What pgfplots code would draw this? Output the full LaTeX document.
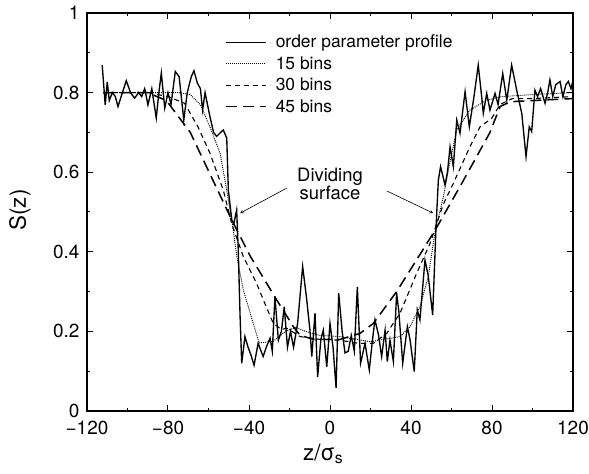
\documentclass[border=0pt]{standalone}
\usepackage{pgfplots}
\pgfplotsset{compat=1.18}
\usepackage{fontspec}
\setmainfont{TeX Gyre Heros}
\begin{document}
\begin{tikzpicture}[>=stealth]
\begin{axis}[
  name=ax,
  scale only axis,
  width=486bp, height=398bp,
  xmin=-120, xmax=120, ymin=0, ymax=1,
  xtick={-120,-80,...,120},
  xticklabels={−120,−80,−40,0,40,80,120},
  ytick={0,0.2,...,1},
  yticklabels={0,0.2,0.4,0.6,0.8,1},
  minor x tick num=1, minor y tick num=1,
  major tick length=6bp, minor tick length=3.5bp,
  every tick/.style={line width=1bp, black},
  axis line style={line width=1.4bp},
  tick label style={font=\fontsize{19}{21}\selectfont},
  xticklabel style={yshift=-7bp},
  yticklabel style={xshift=-4bp},
  xlabel={z/σ\textsubscript{s}},
  ylabel={S(z)},
  label style={font=\fontsize{22.5}{25}\selectfont},
  xlabel style={at={(axis description cs:0.486,-0.108)}, anchor=center},
  ylabel style={at={(axis description cs:-0.138,0.505)}, anchor=center},
  legend style={draw=none, fill=none, at={(axis description cs:0.278,0.955)}, anchor=north west,
    font=\fontsize{17.5}{19}\selectfont, row sep=3.3bp,
    /tikz/every odd column/.append style={column sep=7bp}},
  legend cell align=left,
  legend image code/.code={\draw[#1] (0bp,0bp) -- (40bp,0bp);},
]
% order parameter profile
\addplot[black, line width=1.35bp] coordinates {
(-112.5,0.869) (-111,0.769) (-110,0.827) (-109,0.78) (-107.5,0.80) (-106,0.79)
(-104.7,0.765) (-102.5,0.80) (-100.6,0.83) (-98.5,0.80) (-96.5,0.786) (-94.5,0.80)
(-93,0.79) (-91.5,0.81) (-89.9,0.769) (-88,0.81) (-85.8,0.736) (-84.5,0.80)
(-83.3,0.849) (-81.6,0.761) (-80,0.80) (-78.5,0.77) (-76.4,0.853) (-74.5,0.84)
(-72.2,0.731) (-70.5,0.80) (-68.5,0.84) (-67.2,0.855) (-65.5,0.824) (-64,0.81)
(-62.9,0.756) (-61.7,0.80) (-59.3,0.74) (-57.5,0.70) (-56,0.69) (-54,0.70)
(-52.7,0.706) (-51,0.686) (-50.2,0.555) (-48.5,0.48) (-47.5,0.47) (-46.1,0.505)
(-45.3,0.405) (-44.4,0.237) (-43.6,0.12) (-42,0.187) (-40.5,0.161) (-39,0.14)
(-37.5,0.115) (-35.5,0.17) (-34,0.15) (-33,0.137) (-31.5,0.16) (-29.6,0.183)
(-28.5,0.15) (-27.2,0.287) (-25.5,0.178) (-24,0.2) (-22.6,0.262) (-21,0.16)
(-19.5,0.2) (-18,0.16) (-16,0.22) (-13.5,0.363) (-11.5,0.28) (-9.9,0.203)
(-9,0.137) (-7.4,0.246) (-6.1,0.086) (-4.5,0.18) (-3.3,0.203) (-1.6,0.111)
(0,0.22) (1.5,0.16) (3,0.058) (4.3,0.296) (6,0.2) (7.4,0.146) (9,0.15)
(10.5,0.19) (12,0.15) (13.5,0.312) (15.1,0.12) (17.3,0.17) (19.4,0.103)
(21,0.18) (22.2,0.229) (24,0.19) (25.5,0.137) (27.2,0.203) (28.3,0.124)
(29.6,0.178) (31.3,0.124) (32.9,0.296) (34,0.25) (35.9,0.12) (38.2,0.212)
(39.5,0.18) (41.6,0.099) (43.1,0.254) (44.4,0.229) (46.9,0.379) (48.5,0.34)
(50.7,0.241) (52.3,0.455) (53.5,0.58) (54.6,0.614) (56.8,0.568) (58,0.60)
(59.3,0.664) (60.9,0.614) (62.6,0.731) (64.2,0.698) (66.7,0.802) (68.8,0.714)
(71.1,0.79) (73.2,0.869) (74.9,0.79) (75.7,0.748) (77.4,0.798) (79,0.756)
(81.5,0.798) (83,0.77) (85.3,0.848) (87.3,0.781) (89.7,0.869) (92.2,0.806)
(94.7,0.748) (96.8,0.639) (98.4,0.714) (99.6,0.702) (101.2,0.806) (102.5,0.79)
(104,0.81) (106.2,0.773) (107.5,0.80) (108.6,0.832) (110,0.79) (111.5,0.82)
(113.6,0.828) (115,0.79) (116.5,0.82) (117.7,0.828) (119,0.81) (120,0.83)
};
\addlegendentry{order parameter profile}
% 15 bins
\addplot[black, line width=0.9bp, dash pattern=on 1bp off 1bp] coordinates {
(-112,0.80) (-90,0.80) (-75,0.80) (-69,0.795) (-64,0.77) (-59.3,0.714)
(-54.3,0.648) (-51,0.555) (-48.5,0.48) (-46,0.388) (-42.8,0.304) (-37.9,0.22)
(-35,0.171) (-28,0.175) (-22,0.20) (-17,0.21) (-12,0.20) (-5,0.19) (5,0.187)
(20,0.174) (34.6,0.187) (39.5,0.212) (44.4,0.262) (48.5,0.337) (52,0.455)
(56,0.538) (59,0.62) (62.6,0.706) (69,0.756) (77.4,0.781) (85,0.79)
(100,0.795) (120,0.80)
};
\addlegendentry{15 bins}
% 30 bins
\addplot[black, line width=1.1bp, dash pattern=on 5bp off 4bp] coordinates {
(-112,0.80) (-90,0.80) (-80,0.79) (-71.8,0.773) (-65.2,0.714) (-59.3,0.648)
(-52.7,0.555) (-48.5,0.47) (-42.8,0.388) (-36.2,0.32) (-32.9,0.279) (-28,0.22)
(-24,0.205) (-21.4,0.208) (-14.8,0.187) (-5,0.18) (4.9,0.178) (14,0.17)
(21.4,0.17) (28,0.195) (34.6,0.246) (42.8,0.346) (49.4,0.421) (52,0.46)
(56,0.52) (60.9,0.572) (69.1,0.664) (74.1,0.714) (79.8,0.735) (84,0.77)
(90,0.785) (100,0.785) (120,0.79)
};
\addlegendentry{30 bins}
% 45 bins
\addplot[black, line width=1.5bp, dash pattern=on 11bp off 6bp] coordinates {
(-112,0.80) (-90,0.80) (-80.8,0.78) (-69,0.70) (-62.5,0.63) (-48.5,0.48)
(-39.5,0.39) (-26.3,0.279) (-18.1,0.212) (-14.8,0.19) (-8,0.18) (5,0.18)
(14.8,0.195) (21.4,0.22) (32.9,0.30) (42.8,0.38) (52,0.455) (64.2,0.564)
(72.4,0.639) (79,0.70) (84,0.765) (89,0.777) (100,0.78) (120,0.785)
};
\addlegendentry{45 bins}
\node[align=center, font=\fontsize{18.5}{18}\selectfont] at (axis cs:0,0.57) {Dividing\\surface};
\draw[->, line width=0.6bp] (axis cs:-21.4,0.56) -- (axis cs:-44.4,0.497);
\draw[->, line width=0.6bp] (axis cs:28,0.553) -- (axis cs:51,0.497);
\end{axis}
\pgfresetboundingbox
\path ([shift={(-87bp,-63bp)}]ax.south west) rectangle ([shift={(16bp,13bp)}]ax.north east);
\end{tikzpicture}
\end{document}
